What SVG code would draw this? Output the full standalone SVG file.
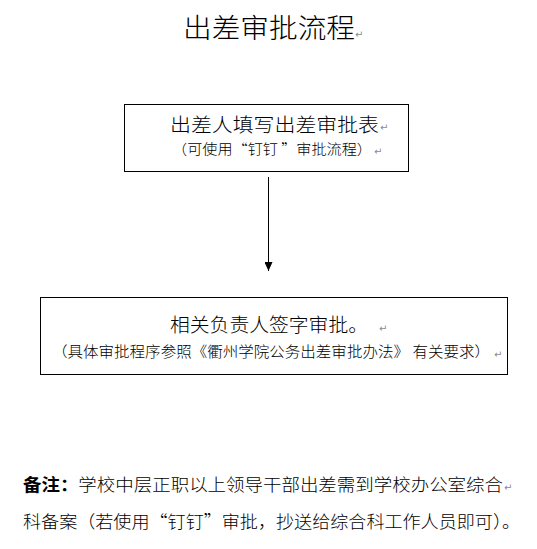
<svg xmlns="http://www.w3.org/2000/svg" width="537" height="549" viewBox="0 0 537 549">
<style>
.t{font-family:"Noto Sans CJK SC","Noto Sans",sans-serif;fill:#000;font-weight:300}
.pm{font-family:"DejaVu Sans",sans-serif;fill:#8a8a8a;font-size:10px}
.box{fill:#fff;stroke:#000;stroke-width:1}
</style>
<defs>
<marker id="ah" markerWidth="10" markerHeight="8" refX="9" refY="4" orient="auto" markerUnits="userSpaceOnUse">
<path d="M0,0 L9,4 L0,8 Z" fill="#000"/>
</marker>
</defs>
<rect width="537" height="549" fill="#fff"/>
<g id="title">
<text class="t" x="183" y="38" font-size="27" textLength="172" lengthAdjust="spacingAndGlyphs">出差审批流程</text>
<text class="pm" x="355" y="38">↵</text>
</g>
<g id="node1">
<rect class="box" x="124.5" y="104.5" width="284" height="67"/>
<text class="t" x="170" y="132" font-size="19" textLength="209" lengthAdjust="spacingAndGlyphs">出差人填写出差审批表</text>
<text class="pm" x="380" y="131">↵</text>
<text class="t" x="172" y="154" font-size="14" textLength="200" lengthAdjust="spacingAndGlyphs">（可使用“钉钉 ”审批流程）</text>
<text class="pm" x="374" y="155">↵</text>
</g>
<g id="node2">
<rect class="box" x="40.5" y="297.5" width="467" height="77"/>
<text class="t" x="170" y="332" font-size="19" textLength="198" lengthAdjust="spacingAndGlyphs">相关负责人签字审批。</text>
<text class="pm" x="379" y="332">↵</text>
<text class="t" x="52" y="357" font-size="14.5" textLength="438" lengthAdjust="spacingAndGlyphs">（具体审批程序参照《衢州学院公务出差审批办法》 有关要求）</text>
<text class="pm" x="494" y="358">↵</text>
</g>
<g id="connectors">
<line x1="268.5" y1="177" x2="268.5" y2="271" stroke="#000" stroke-width="1" marker-end="url(#ah)"/>
</g>
<g id="note">
<text class="t" x="23" y="491" font-size="17.5" textLength="480" lengthAdjust="spacingAndGlyphs"><tspan font-weight="bold">备注：</tspan>学校中层正职以上领导干部出差需到学校办公室综合</text>
<text class="pm" x="504" y="491">↵</text>
<text class="t" x="23" y="528" font-size="17.5" textLength="497" lengthAdjust="spacingAndGlyphs">科备案（若使用“钉钉”审批，抄送给综合科工作人员即可）。</text>
</g>
</svg>
